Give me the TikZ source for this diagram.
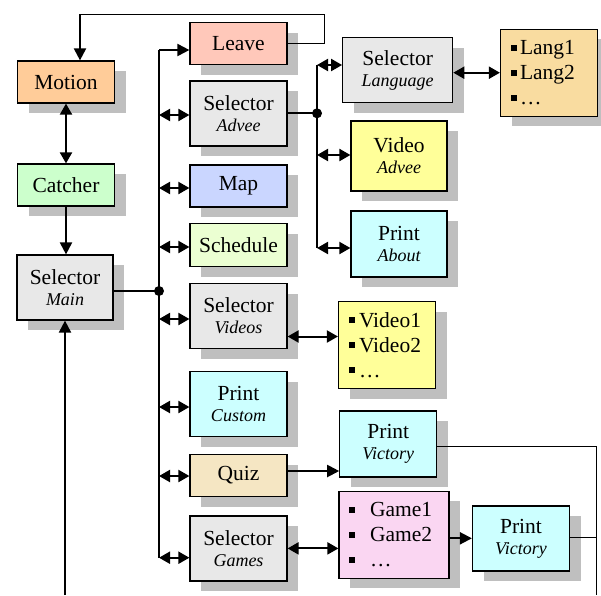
\documentclass[tikz,border=0pt]{standalone}
\usepackage{fontspec}
\setmainfont{Liberation Serif}
\newfontfamily\boxserif{Liberation Serif}
\usetikzlibrary{arrows.meta,shadows}

\definecolor{motionc}{HTML}{FFCC99}
\definecolor{catchc}{HTML}{CCFFCC}
\definecolor{selc}{HTML}{E8E8E8}
\definecolor{leavec}{HTML}{FFC8BA}
\definecolor{mapc}{HTML}{CAD6FF}
\definecolor{schedc}{HTML}{EBFFD2}
\definecolor{printc}{HTML}{CCFFFF}
\definecolor{quizc}{HTML}{F5E6C3}
\definecolor{langc}{HTML}{F9DCA0}
\definecolor{vidc}{HTML}{FFFF99}
\definecolor{gamec}{HTML}{FAD6F2}

\newcommand{\boxfont}{\boxserif\fontsize{21.5}{21}\selectfont}
\newcommand{\listfont}{\boxserif\fontsize{21.5}{25}\selectfont}
\newcommand{\subtext}[1]{{\boxserif\fontsize{18}{21}\selectfont\itshape #1}}
\newcommand{\sq}{\rule[4pt]{6pt}{6pt}}

\begin{document}
\begin{tikzpicture}[x=1pt,y=-1pt,
    box/.style={draw,line width=1.2pt,inner sep=0pt,align=center,
      minimum width=97pt,minimum height=42pt,font=\boxfont,
      drop shadow={shadow xshift=11pt,shadow yshift=-10pt,
        fill=black!25,opacity=1}},
    tall/.style={box,minimum height=65pt},
    listbox/.style={box,align=left,font=\listfont,inner xsep=10pt,
      minimum height=87pt},
    arr/.style={line width=2pt,-{Triangle[length=12pt,width=12pt]}},
    dbl/.style={line width=2pt,%
      {Triangle[length=11pt,width=12pt]}-{Triangle[length=11pt,width=12pt]}},
    wire/.style={line width=1pt}]
  \useasboundingbox (0,0) rectangle (601,595);

  % left column
  \node[box,fill=motionc] (motion) at (66,82) {Motion};
  \node[box,fill=catchc] (catcher) at (66,185) {Catcher};
  \node[tall,fill=selc,minimum width=96pt] (main) at (65,287.5) %
    {Selector\\\subtext{Main}};

  % main menu
  \node[box,fill=leavec] (leave) at (238.5,43.5) {Leave};
  \node[tall,fill=selc] (advee) at (238.5,113.5) {Selector\\\subtext{Advee}};
  \node[box,fill=mapc] (map) at (238.5,186) {Map};
  \node[box,fill=schedc,minimum height=43pt] (schedule) at (238.5,245.3) %
    {Schedule};
  \node[tall,fill=selc] (videos) at (238.5,316) {Selector\\\subtext{Videos}};
  \node[tall,fill=printc] (custom) at (238.5,404) {Print\\\subtext{Custom}};
  \node[box,fill=quizc] (quiz) at (238.5,475.5) {Quiz};
  \node[tall,fill=selc] (games) at (238.5,548.5) {Selector\\\subtext{Games}};

  % sub menus
  \node[tall,fill=selc,minimum width=110pt] (language) at (397.7,70) %
    {Selector\\\subtext{Language}};
  \node[listbox,fill=langc,text width=76pt] (langlist) at (549,72.7) %
    {\sq\hspace{3pt}Lang1\\\sq\hspace{3pt}Lang2\\\sq\hspace{3pt}…};
  \node[tall,fill=vidc,minimum width=96pt,minimum height=70pt] (vadvee) %
    at (399,156) {Video\\\subtext{Advee}};
  \node[tall,fill=printc,minimum width=96pt,minimum height=66pt] (about) %
    at (399,244) {Print\\\subtext{About}};
  \node[listbox,fill=vidc,text width=76pt] (vidlist) at (387,345) %
    {\sq\hspace{4pt}Video1\\\sq\hspace{4pt}Video2\\\sq\hspace{4pt}…};
  \node[tall,fill=printc,minimum height=66pt] (victory) at (388.3,444) %
    {Print\\\subtext{Victory}};
  \node[listbox,fill=gamec,text width=90pt] (gamelist) at (394,534.7) %
    {\sq\hspace{15pt}Game1\\\sq\hspace{15pt}Game2\\\sq\hspace{15pt}…};
  \node[tall,fill=printc] (gamewin) at (521,538.5) {Print\\\subtext{Victory}};

  % left column links
  \coordinate (loopr) at (324,14);
  \coordinate (loopl) at (80,14);
  \draw[wire] (leave.east) -| (loopr) -- (loopl);
  \draw[arr] (loopl) -- (loopl |- motion.north);
  \draw[dbl] (motion) -- (catcher);
  \draw[arr] (catcher) -- (catcher |- main.north);
  \coordinate (entry) at (65,595);
  \draw[arr] (entry) -- (entry |- main.south);

  % main bus
  \coordinate (hub) at (159,291);
  \coordinate (bustop) at (159,50);
  \coordinate (busbot) at (159,557.7);
  \draw[line width=2pt] (hub -| main.east) -- (hub);
  \draw[line width=1.2pt] (bustop) -- (busbot);
  \fill (hub) circle[radius=5pt];
  \draw[arr] (bustop) -- (bustop -| leave.west);
  \foreach \n/\y in {advee/115,map/188,schedule/247,videos/319,%
      custom/407,quiz/476,games/557.7} {
    \coordinate (lv) at (159,\y);
    \draw[dbl] (lv) -- (lv -| \n.west);
  }

  % advee bus
  \coordinate (hubb) at (317,113.3);
  \draw[line width=2pt] (hubb -| advee.east) -- (hubb);
  \draw[line width=1.2pt] (317,65) -- (317,248);
  \fill (hubb) circle[radius=5pt];
  \foreach \n/\y in {language/65,vadvee/155,about/248} {
    \coordinate (lv) at (317,\y);
    \draw[dbl] (lv) -- (lv -| \n.west);
  }

  % lists and results
  \coordinate (langlv) at (0,72.7);
  \draw[dbl] (langlv -| language.east) -- (langlv -| langlist.west);
  \coordinate (vidlv) at (0,336.5);
  \draw[dbl] (vidlv -| videos.east) -- (vidlv -| vidlist.west);
  \coordinate (quizlv) at (0,471);
  \draw[arr] (quizlv -| quiz.east) -- (quizlv -| victory.west);
  \coordinate (gamelv) at (0,548.4);
  \draw[dbl] (gamelv -| games.east) -- (gamelv -| gamelist.west);
  \coordinate (winlv) at (0,538.3);
  \draw[arr] (winlv -| gamelist.east) -- (winlv -| gamewin.west);

  % exit wire
  \coordinate (rtop) at (596,446);
  \coordinate (rmid) at (596,537.3);
  \draw[wire] (rtop -| victory.east) -- (rtop) -- (596,595);
  \draw[wire] (rmid -| gamewin.east) -- (rmid);
\end{tikzpicture}
\end{document}
